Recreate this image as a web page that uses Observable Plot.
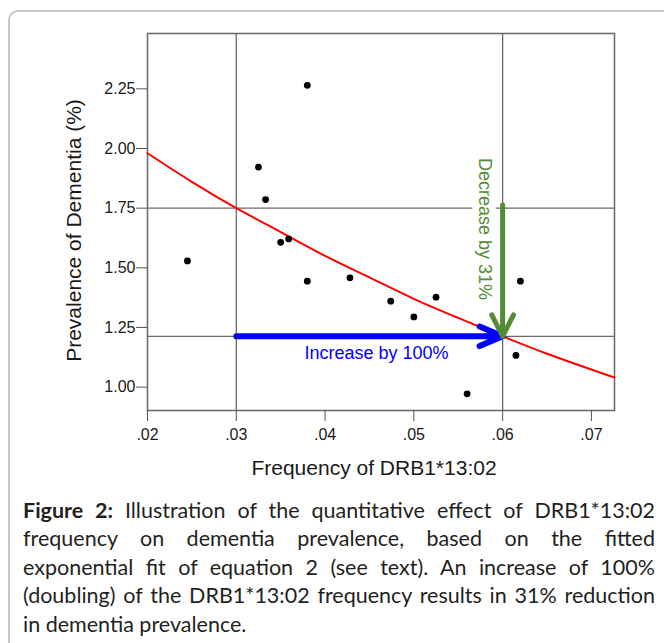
<!DOCTYPE html>
<html>
<head>
<meta charset="utf-8">
<script src="https://cdn.jsdelivr.net/npm/d3@7"></script>
<script src="https://cdn.jsdelivr.net/npm/@observablehq/plot@0.6"></script>
<style>
  html, body { margin: 0; padding: 0; background: #fff; }
  #box { position: absolute; left: 8px; top: 10px; width: 720px; height: 700px;
         border: 2px solid #c6c6c6; border-radius: 10px; box-sizing: border-box; }
  #chart { position: absolute; left: 0; top: 0; }
  #caption { position: absolute; left: 23px; top: 496px; width: 632px;
             font-family: Lato, "Open Sans", sans-serif; font-size: 20px; line-height: 28.4px; color: #231f20; }
  #caption .j { text-align: justify; text-align-last: justify; white-space: nowrap; }
  #caption div { white-space: nowrap; }
</style>
</head>
<body>
<div id="box"></div>
<div id="chart"></div>
<div id="caption"></div>
<script>
// ---- data ----
const freq = [0.0245, 0.0325, 0.0333, 0.0380, 0.0350, 0.0359, 0.0380, 0.0428, 0.0474, 0.0500, 0.0525, 0.0620, 0.0615, 0.0560];
const prev = [1.529, 1.922, 1.786, 2.265, 1.607, 1.621, 1.444, 1.458, 1.360, 1.294, 1.377, 1.444, 1.133, 0.972];

// fitted exponential curve
const fitX = [0.020, 0.025, 0.030, 0.035, 0.040, 0.045, 0.050, 0.055, 0.060, 0.065, 0.0726];
const fitY = [1.98, 1.86, 1.75, 1.65, 1.55, 1.46, 1.37, 1.29, 1.213, 1.14, 1.04];

// reference lines
const refX = [0.03, 0.06];
const refY = [1.75, 1.213];

// axes
const xTicks = [0.02, 0.03, 0.04, 0.05, 0.06, 0.07];
const yTicks = [1.00, 1.25, 1.50, 1.75, 2.00, 2.25];
const xDomain = [0.02, 0.0726];
const yDomain = [0.902, 2.482];
const xTitle = ["Frequency of DRB1*13:02"];
const yTitle = ["Prevalence of Dementia (%)"];

// annotations
const incArrow = [{x1: 0.03, y1: 1.213, x2: 0.06, y2: 1.213}];
const decArrow = [{x1: 0.06, y1: 1.763, x2: 0.06, y2: 1.213}];
const incLabel = [{x: 0.0458, y: 1.142, text: "Increase by 100%"}];
const decLabel = [{x: 0.0580, y: 1.663, text: "Decrease by 31%"}];

const captionLines = [
  "<b>Figure 2:</b> Illustration of the quantitative effect of DRB1*13:02",
  "frequency on dementia prevalence, based on the fitted",
  "exponential fit of equation 2 (see text). An increase of 100%",
  "(doubling) of the DRB1*13:02 frequency results in 31% reduction",
  "in dementia prevalence."
];

// ---- chart ----
const points = freq.map((f, i) => ({f, p: prev[i]}));
const fit = fitX.map((f, i) => ({f, p: fitY[i]}));
const green = "#558a36";
const font = "'Liberation Sans', Arial, sans-serif";

const chart = Plot.plot({
  width: 664,
  height: 480,
  marginTop: 33,
  marginBottom: 70,
  marginLeft: 147,
  marginRight: 50,
  style: {fontFamily: font, fontSize: "16px", color: "#1a1a1a", background: "transparent", overflow: "visible"},
  x: {domain: xDomain, label: null},
  y: {domain: yDomain, label: null},
  marks: [
    Plot.ruleX(refX, {stroke: "#6a6a6a", strokeWidth: 1.3}),
    Plot.ruleY(refY, {stroke: "#6a6a6a", strokeWidth: 1.3}),
    Plot.frame({stroke: "#6e6e6e", strokeWidth: 1.6}),
    Plot.axisX({ticks: xTicks, tickFormat: d => d3.format(".2f")(d).replace(/^0/, ""),
      tickSize: 11, tickPadding: 7, fontSize: 16, stroke: "#555", fill: "#1a1a1a", label: null}),
    Plot.axisY({ticks: yTicks, tickFormat: d3.format(".2f"),
      tickSize: 11, tickPadding: 1, fontSize: 16, stroke: "#555", fill: "#1a1a1a", label: null}),
    Plot.line(fit, {x: "f", y: "p", stroke: "#ff0000", strokeWidth: 2, curve: "natural"}),
    Plot.dot(points, {x: "f", y: "p", r: 3.4, fill: "black"}),
    Plot.arrow(incArrow, {x1: "x1", y1: "y1", x2: "x2", y2: "y2", stroke: "#0000ff",
      strokeWidth: 6, headLength: 6.25, headAngle: 46, strokeLinecap: "round", strokeLinejoin: "round"}),
    Plot.text(decLabel, {x: "x", y: "y", text: "text", rotate: 90, fontSize: 18,
      fill: "white", stroke: "white", strokeWidth: 14, strokeLinejoin: "miter"}),
    Plot.text(decLabel, {x: "x", y: "y", text: "text", rotate: 90, fontSize: 18, fill: green}),
    Plot.arrow(decArrow, {x1: "x1", y1: "y1", x2: "x2", y2: "y2", stroke: green,
      strokeWidth: 5, headLength: 7.2, headAngle: 54, strokeLinecap: "round", strokeLinejoin: "round"}),
    Plot.text(incLabel, {x: "x", y: "y", text: "text", fontSize: 18, fill: "#0000ff"}),
    Plot.text(xTitle, {text: d => d, frameAnchor: "bottom", textAnchor: "middle", lineAnchor: "middle",
      dx: -7, dy: 58, fontSize: 21, fill: "#1a1a1a"}),
    Plot.text(yTitle, {text: d => d, frameAnchor: "left", textAnchor: "middle", lineAnchor: "middle",
      rotate: -90, dx: -73, dy: 8.5, fontSize: 21, fill: "#1a1a1a"})
  ]
});
document.getElementById("chart").appendChild(chart);

// ---- caption ----
const cap = document.getElementById("caption");
const probe = document.createElement("span");
probe.style.whiteSpace = "nowrap";
probe.innerHTML = captionLines[3];
cap.appendChild(probe);
const w = probe.getBoundingClientRect().width;
cap.removeChild(probe);
const fs = Math.min(21.5, 20 * 626 / w);
cap.style.fontSize = fs + "px";
captionLines.forEach((t, i) => {
  const d = document.createElement("div");
  if (i < captionLines.length - 1) d.className = "j";
  d.innerHTML = t;
  cap.appendChild(d);
});
</script>
</body>
</html>
